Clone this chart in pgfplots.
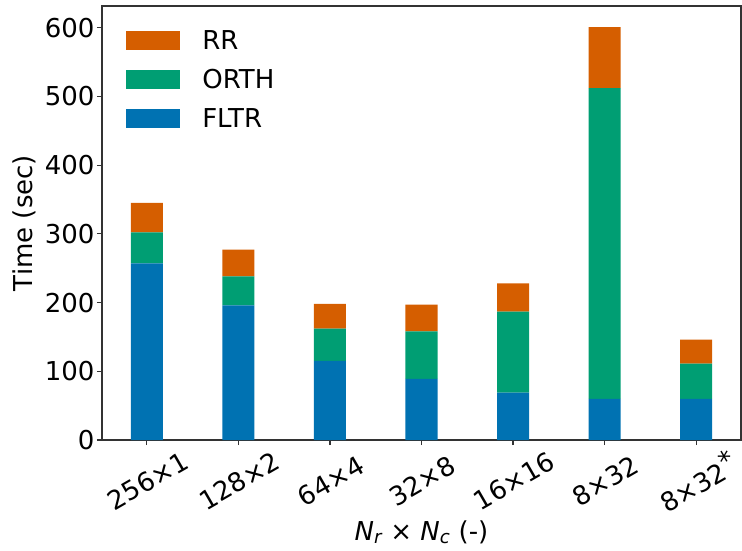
\documentclass[border=0pt]{standalone}
\usepackage{pgfplots}
\pgfplotsset{compat=1.18}
\usepackage{fontspec}
\setmainfont{DejaVu Sans}
\definecolor{cfltr}{RGB}{0,114,178}
\definecolor{corth}{RGB}{0,158,115}
\definecolor{crr}{RGB}{213,94,0}
\begin{document}
\begin{tikzpicture}
\path[use as bounding box] (-102pt,-110pt) rectangle (640pt,440pt);
\begin{axis}[
  at={(0pt,0pt)}, anchor=south west,
  scale only axis, width=639pt, height=434pt,
  font=\fontsize{26}{31}\selectfont,
  ybar stacked, bar width=0.35,
  xmin=-0.49, xmax=6.49, ymin=0, ymax=631.6,
  xtick={0,1,2,3,4,5,6},
  xticklabels={256×1,128×2,64×4,32×8,16×16,8×32,8×32\raisebox{0.3em}{*}},
  ytick={0,100,200,300,400,500,600},
  /pgf/number format/assume math mode=true,
  tick align=outside, major tick length=5pt,
  xtick pos=bottom, ytick pos=left,
  axis line style={line width=1.1pt, black!80},
  tick style={line width=1.1pt, black!80},
  xticklabel style={yshift=-36pt, xshift=1pt, rotate=30, anchor=center},
  yticklabel style={xshift=1pt},
  ylabel={Time (sec)},
  ylabel style={at={(axis description cs:-0.121,0.5)}, anchor=center},
  xlabel={{\itshape N}\textsubscript{\itshape r} × {\itshape N}\textsubscript{\itshape c} (-)},
  xlabel style={at={(axis description cs:0.5,0)}, anchor=base, yshift=-100pt},
  legend style={draw=none, fill=none, at={(0.033,0.954)}, anchor=north west,
    row sep=14.5pt, font=\fontsize{26}{31}\selectfont,
    /tikz/every odd column/.append style={column sep=20pt}},
  legend cell align=left,
  reverse legend,
  legend image code/.code={\fill[#1] (0pt,-9.5pt) rectangle (54pt,9.5pt);},
]
\addplot[fill=cfltr, draw=none] coordinates {(0,257) (1,196) (2,115) (3,89) (4,69) (5,60) (6,60)};
\addplot[fill=corth, draw=none] coordinates {(0,45) (1,42) (2,47) (3,69) (4,118) (5,452) (6,51)};
\addplot[fill=crr, draw=none] coordinates {(0,43) (1,39) (2,36) (3,39) (4,41) (5,89) (6,35)};
\legend{FLTR,ORTH,RR}
\end{axis}
\end{tikzpicture}
\end{document}
